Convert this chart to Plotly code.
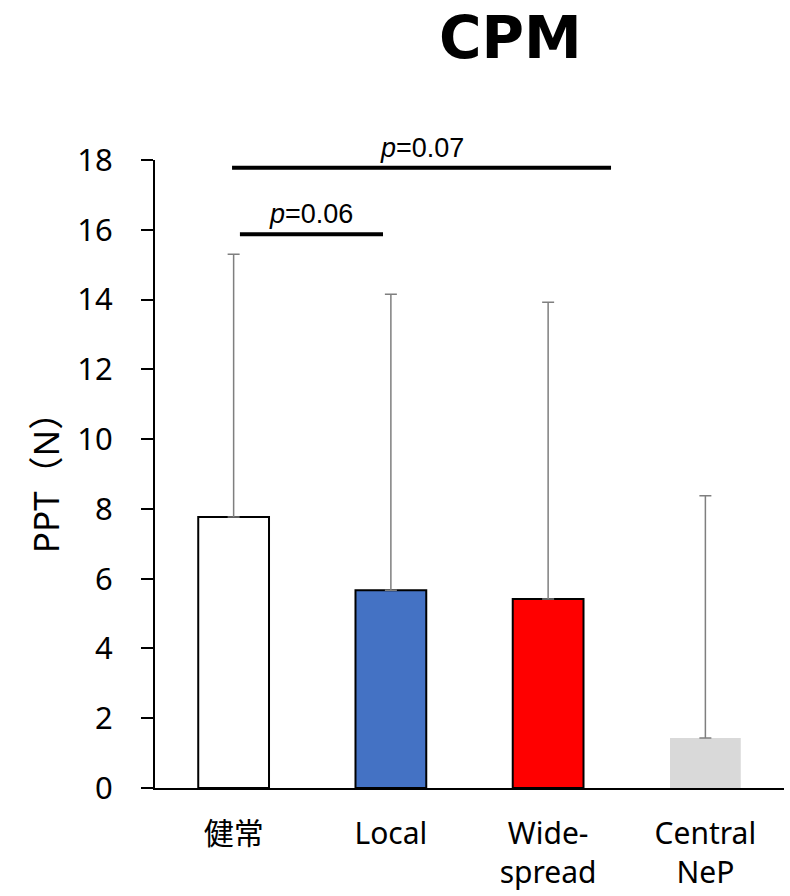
import plotly.graph_objects as go

# Group labels and values
categories = ["健常", "Local", "Wide-<br>spread", "Central<br>NeP"]
means = [7.77, 5.67, 5.42, 1.43]
sd_upper = [7.53, 8.48, 8.50, 6.95]   # upper error extents (mean + sd)
bar_colors = ["#FFFFFF", "#4472C4", "#FF0000", "#D9D9D9"]
outline_colors = ["#000000", "#000000", "#000000", "#D9D9D9"]
outline_widths = [2, 2, 2, 0]
y_ticks = [0, 2, 4, 6, 8, 10, 12, 14, 16, 18]

# Significance brackets: (x start, x end, y level, label)
sig_x0 = [0.04, -0.01]
sig_x1 = [0.95, 2.40]
sig_y = [15.87, 17.78]
sig_text = ["<i>p</i>=0.06", "<i>p</i>=0.07"]

xpos = list(range(len(categories)))

fig = go.Figure()
fig.add_trace(go.Bar(
    x=xpos,
    y=means,
    width=0.45,
    marker=dict(color=bar_colors,
                line=dict(color=outline_colors, width=outline_widths)),
    error_y=dict(type="data", symmetric=False, array=sd_upper,
                 arrayminus=[0] * len(means),
                 color="#7F7F7F", thickness=1.5, width=6),
    showlegend=False,
))

for x0, x1, yv, txt in zip(sig_x0, sig_x1, sig_y, sig_text):
    fig.add_shape(type="line", xref="x", yref="y", x0=x0, x1=x1, y0=yv, y1=yv,
                  line=dict(color="black", width=4))
    fig.add_annotation(x=(x0 + x1) / 2, y=yv, xref="x", yref="y", text=txt,
                       showarrow=False, yanchor="bottom", yshift=3,
                       font=dict(family="Liberation Sans", size=27, color="black"))

fig.update_layout(
    width=790, height=896,
    margin=dict(l=155, r=6, t=160, b=108, autoexpand=False),
    plot_bgcolor="white", paper_bgcolor="white",
    font=dict(family="Noto Sans, Noto Sans CJK JP", size=31, color="black"),
    title=dict(text="<b>CPM</b>", xref="container", yref="container",
               x=0.646, y=0.958, xanchor="center", yanchor="middle",
               font=dict(family="DejaVu Sans", size=58, color="black")),
    bargap=0.55,
)
fig.update_xaxes(
    range=[-0.5, 3.5], tickmode="array", tickvals=xpos, ticktext=categories,
    showline=True, linecolor="black", linewidth=2, ticks="",
    ticklabelstandoff=18, showgrid=False, zeroline=False, automargin=False,
    tickfont=dict(family="Noto Sans, Noto Sans CJK JP", size=30),
)
fig.update_yaxes(
    range=[0, 18], tickmode="array", tickvals=y_ticks,
    showline=True, linecolor="black", linewidth=2,
    ticks="outside", ticklen=12, tickwidth=2, tickcolor="black",
    ticklabelstandoff=22, showgrid=False, zeroline=False, automargin=False,
    tickfont=dict(family="Noto Sans", size=31),
    title=dict(text="PPT（N）", standoff=7,
               font=dict(family="Noto Sans, Noto Sans CJK JP", size=35)),
)

fig.write_html("out.html")
